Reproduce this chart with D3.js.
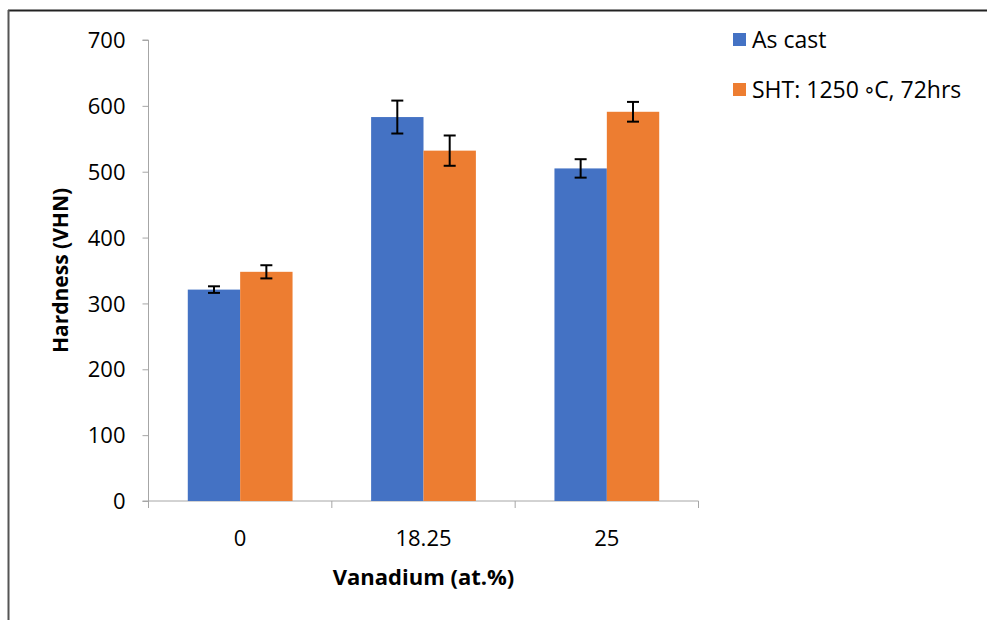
<!DOCTYPE html>
<html>
<head>
<meta charset="utf-8">
<script src="https://cdn.jsdelivr.net/npm/d3@7"></script>
<style>
  body { margin: 0; background: #fff; }
  svg text { font-family: "Open Sans", Lato, "Liberation Sans", sans-serif; fill: #000; }
</style>
</head>
<body>
<div id="chart"></div>
<script>
const categories = ['0', '18.25', '25'];
const seriesNames = ['As cast', 'SHT: 1250 \u25e6C, 72hrs'];
const asCast = [321, 583, 505];
const asCastErr = [5, 25, 14];
const sht = [348, 532, 591];
const shtErr = [10, 23, 15];
const yTicks = [0, 100, 200, 300, 400, 500, 600, 700];
const colors = ['#4472C4', '#ED7D31'];

const width = 987;
const height = 620;
const plot = { left: 148.5, right: 698.5, top: 40, bottom: 501 };

const svg = d3.select('#chart')
  .append('svg')
  .attr('width', width)
  .attr('height', height);

// outer frame (top and left edges only visible)
svg.append('line')
  .attr('x1', 8).attr('x2', width).attr('y1', 10.5).attr('y2', 10.5)
  .attr('stroke', '#222').attr('stroke-width', 2);
svg.append('line')
  .attr('x1', 8.5).attr('x2', 8.5).attr('y1', 10).attr('y2', height)
  .attr('stroke', '#555').attr('stroke-width', 2);

const x0 = d3.scaleBand()
  .domain(categories)
  .range([plot.left, plot.right])
  .paddingInner(0)
  .paddingOuter(0);

// Excel gap width 150%: 2 bars + 1.5 bar-widths of gap per band
const barW = x0.bandwidth() / 3.5;

const y = d3.scaleLinear()
  .domain([0, 700])
  .range([plot.bottom, plot.top]);

const series = [
  { name: seriesNames[0], values: asCast, err: asCastErr, color: colors[0] },
  { name: seriesNames[1], values: sht, err: shtErr, color: colors[1] }
];

// AXES
const yAxis = d3.axisLeft(y).tickValues(yTicks).tickSize(6).tickPadding(17);
const yG = svg.append('g')
  .attr('transform', `translate(${plot.left},0)`)
  .call(yAxis);
yG.selectAll('path, line').attr('stroke', '#a6a6a6');
yG.select('.domain').attr('d', `M-6,${plot.top}H0V${plot.bottom}`);
yG.selectAll('text')
  .style('font-size', '22px')
  .attr('dy', '0.35em');

const xG = svg.append('g')
  .attr('transform', `translate(0,${plot.bottom})`);
xG.append('line')
  .attr('x1', plot.left - 6).attr('x2', plot.right)
  .attr('stroke', '#a6a6a6');
xG.selectAll('.tick')
  .data(d3.range(categories.length + 1))
  .enter()
  .append('line')
  .attr('x1', i => plot.left + i * x0.bandwidth())
  .attr('x2', i => plot.left + i * x0.bandwidth())
  .attr('y1', 0).attr('y2', 7)
  .attr('stroke', '#a6a6a6');
xG.selectAll('.lbl')
  .data(categories)
  .enter()
  .append('text')
  .attr('x', d => x0(d) + x0.bandwidth() / 2)
  .attr('y', 45)
  .attr('text-anchor', 'middle')
  .style('font-size', '22px')
  .text(d => d);

// BARS
const groups = svg.append('g')
  .selectAll('g')
  .data(series)
  .enter()
  .append('g');

groups.selectAll('rect')
  .data((s, si) => s.values.map((v, i) => ({ v, i, si, color: s.color })))
  .enter()
  .append('rect')
  .attr('x', d => x0(categories[d.i]) + x0.bandwidth() / 2 - barW + d.si * barW)
  .attr('y', d => y(d.v))
  .attr('width', barW)
  .attr('height', d => y(0) - y(d.v))
  .attr('fill', d => d.color);

// ERROR BARS
const errData = [];
series.forEach((s, si) => s.values.forEach((v, i) => {
  errData.push({ v, e: s.err[i], cx: x0(categories[i]) + x0.bandwidth() / 2 - barW / 2 + si * barW });
}));
const eb = svg.append('g').attr('stroke', '#000').attr('stroke-width', 2);
eb.selectAll('.stem').data(errData).enter().append('line')
  .attr('x1', d => d.cx).attr('x2', d => d.cx)
  .attr('y1', d => y(d.v + d.e)).attr('y2', d => y(d.v - d.e));
eb.selectAll('.capTop').data(errData).enter().append('line')
  .attr('x1', d => d.cx - 6).attr('x2', d => d.cx + 6)
  .attr('y1', d => y(d.v + d.e)).attr('y2', d => y(d.v + d.e));
eb.selectAll('.capBot').data(errData).enter().append('line')
  .attr('x1', d => d.cx - 6).attr('x2', d => d.cx + 6)
  .attr('y1', d => y(d.v - d.e)).attr('y2', d => y(d.v - d.e));

// AXIS TITLES
svg.append('text')
  .attr('transform', `translate(68,${(plot.top + plot.bottom) / 2}) rotate(-90)`)
  .attr('text-anchor', 'middle')
  .style('font-size', '21px')
  .style('font-weight', 'bold')
  .text('Hardness (VHN)');

svg.append('text')
  .attr('x', (plot.left + plot.right) / 2)
  .attr('y', 585)
  .attr('text-anchor', 'middle')
  .style('font-size', '22px')
  .style('font-weight', 'bold')
  .text('Vanadium (at.%)');

// LEGEND
const legend = svg.append('g')
  .selectAll('g')
  .data(series)
  .enter()
  .append('g')
  .attr('transform', (d, i) => `translate(733,${33 + i * 50})`);
legend.append('rect')
  .attr('width', 13).attr('height', 13)
  .attr('fill', d => d.color);
legend.append('text')
  .attr('x', 19).attr('y', 7)
  .attr('dy', '0.35em')
  .style('font-size', '23px')
  .text(d => d.name);
</script>
</body>
</html>
